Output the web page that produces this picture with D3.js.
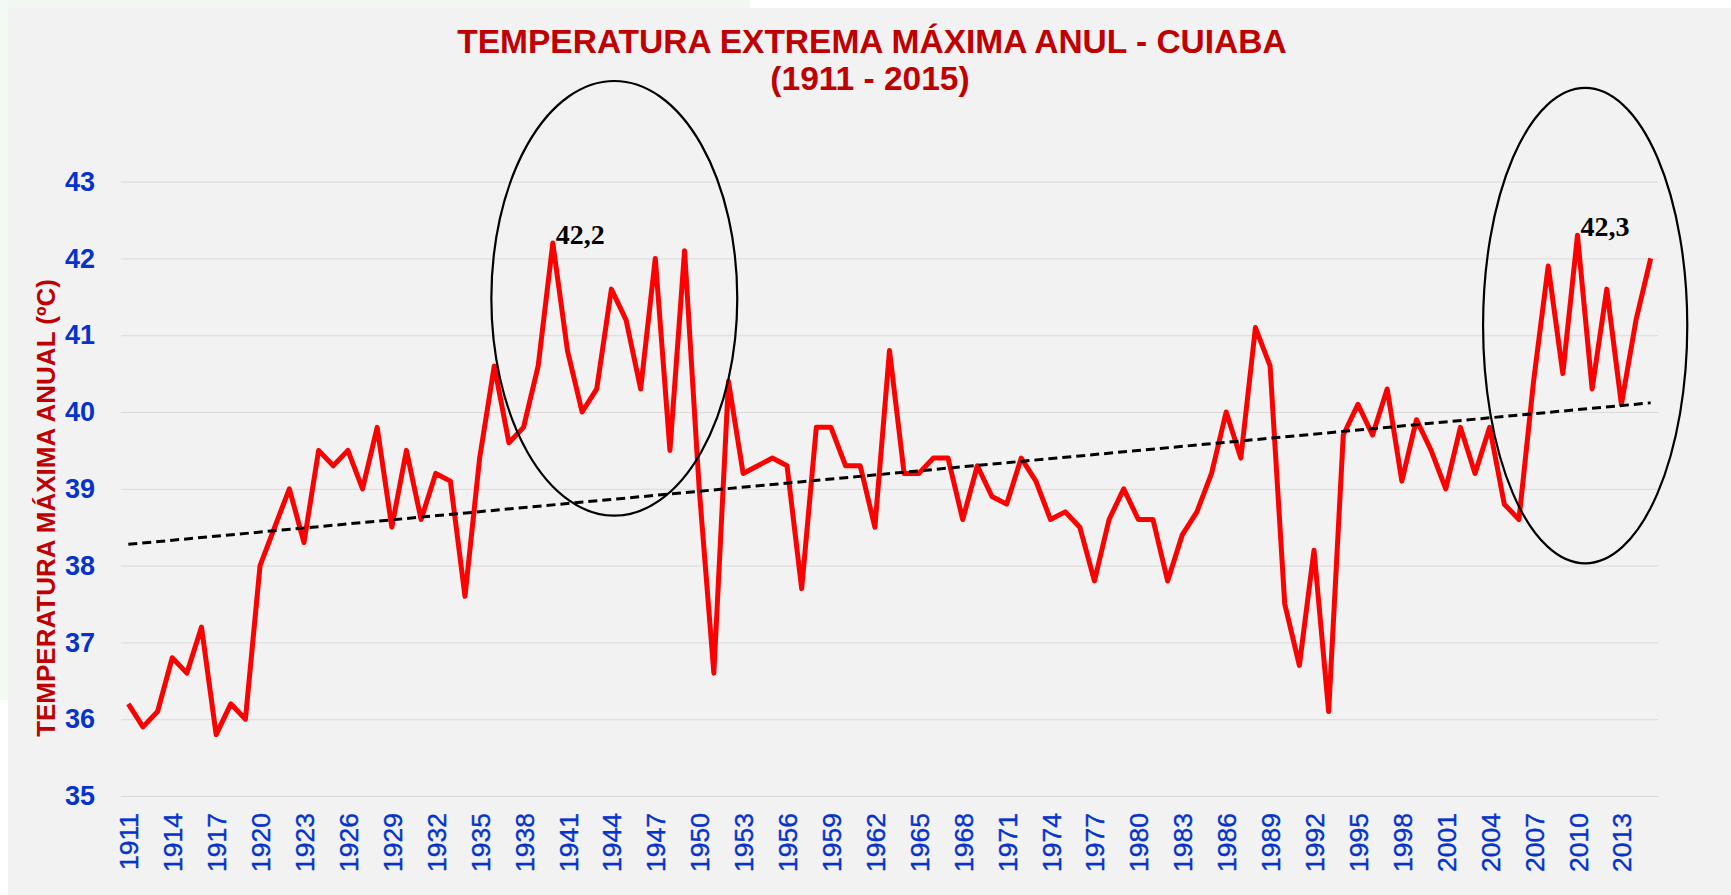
<!DOCTYPE html>
<html>
<head>
<meta charset="utf-8">
<script src="https://cdn.jsdelivr.net/npm/d3@7"></script>
<style>
  body { margin: 0; background: #fff; }
  svg { display: block; font-family: "Liberation Sans", Arial, sans-serif; }
</style>
</head>
<body>
<svg id="chart" width="1731" height="895"></svg>
<script>
// annual extreme max temperature, Cuiabá 1911-2015
const years = d3.range(1911, 2016);
const tmax = [
  36.2, 35.9, 36.1, 36.8, 36.6, 37.2, 35.8, 36.2, 36.0, 38.0,
  38.5, 39.0, 38.3, 39.5, 39.3, 39.5, 39.0, 39.8, 38.5, 39.5,
  38.6, 39.2, 39.1, 37.6, 39.4, 40.6, 39.6, 39.8, 40.6, 42.2,
  40.8, 40.0, 40.3, 41.6, 41.2, 40.3, 42.0, 39.5, 42.1, 39.0,
  36.6, 40.4, 39.2, 39.3, 39.4, 39.3, 37.7, 39.8, 39.8, 39.3,
  39.3, 38.5, 40.8, 39.2, 39.2, 39.4, 39.4, 38.6, 39.3, 38.9,
  38.8, 39.4, 39.1, 38.6, 38.7, 38.5, 37.8, 38.6, 39.0, 38.6,
  38.6, 37.8, 38.4, 38.7, 39.2, 40.0, 39.4, 41.1, 40.6, 37.5,
  36.7, 38.2, 36.1, 39.7, 40.1, 39.7, 40.3, 39.1, 39.9, 39.5,
  39.0, 39.8, 39.2, 39.8, 38.8, 38.6, 40.4, 41.9, 40.5, 42.3,
  40.3, 41.6, 40.1, 41.2, 42.0
];
const yTicks = [35, 36, 37, 38, 39, 40, 41, 42, 43];
const xTickYears = [
  1911, 1914, 1917, 1920, 1923, 1926, 1929, 1932, 1935, 1938,
  1941, 1944, 1947, 1950, 1953, 1956, 1959, 1962, 1965, 1968,
  1971, 1974, 1977, 1980, 1983, 1986, 1989, 1992, 1995, 1998,
  2001, 2004, 2007, 2010, 2013
];
// record values called out on the chart
const peakYears = [1940, 2010];
const peakLabels = ['42,2', '42,3'];
// ellipses drawn around the hot periods (in years / degrees)
const ringYearFrom = [1935.8, 2003.55];
const ringYearTo = [1952.6, 2017.5];
const ringLow = [38.65, 38.03];
const ringHigh = [44.31, 44.22];

const data = years.map((yr, i) => ({ year: yr, value: tmax[i] }));

const W = 1731, H = 895;
const plotLeft = 121, plotRight = 1658, plotTop = 181.6, plotBottom = 796;
const blue = '#0533cc';
const darkRed = '#c00000';

const svg = d3.select('#chart');

// background
svg.append('rect').attr('width', W).attr('height', H).attr('fill', '#fff');
svg.append('rect').attr('x', 0).attr('y', 0).attr('width', 750).attr('height', 8).attr('fill', '#f1f8f1');
svg.append('rect').attr('x', 0).attr('y', 0).attr('width', 8).attr('height', 700).attr('fill', '#f3f9f3');
svg.append('rect').attr('x', 8).attr('y', 8).attr('width', W - 8).attr('height', H - 8).attr('fill', '#f2f2f2');

const x = d3.scalePoint().domain(years).range([plotLeft, plotRight]).padding(0.5);
const xLin = d3.scaleLinear().domain([1911, 2015]).range([x(1911), x(2015)]);
const y = d3.scaleLinear().domain([35, 43]).range([plotBottom, plotTop]);

// y axis + gridlines
const yAxis = svg.append('g')
  .attr('transform', `translate(${plotLeft},0)`)
  .call(d3.axisLeft(y).tickValues(yTicks).tickSize(-(plotRight - plotLeft)).tickPadding(26));
yAxis.select('.domain').remove();
yAxis.selectAll('line').attr('stroke', '#d9d9d9').attr('stroke-width', 1);
yAxis.selectAll('text')
  .attr('fill', blue)
  .style('font-family', '"Liberation Sans", Arial, sans-serif')
  .style('font-size', '27px')
  .style('font-weight', 'bold');

// x axis labels
const xAxis = svg.append('g')
  .attr('transform', `translate(0,${plotBottom})`)
  .call(d3.axisBottom(x).tickValues(xTickYears).tickSize(0));
xAxis.select('.domain').remove();
xAxis.selectAll('text')
  .attr('transform', 'rotate(-90)')
  .attr('x', -17)
  .attr('y', 0)
  .attr('dy', '0.36em')
  .style('text-anchor', 'end')
  .attr('fill', blue)
  .attr('stroke', blue)
  .attr('stroke-width', 0.4)
  .style('font-family', '"Liberation Sans", Arial, sans-serif')
  .style('font-size', '26.5px');

// linear trend (least squares)
const mx = d3.mean(data, d => d.year);
const my = d3.mean(data, d => d.value);
const slope = d3.sum(data, d => (d.year - mx) * (d.value - my)) / d3.sum(data, d => (d.year - mx) ** 2);
const trendAt = yr => my + slope * (yr - mx);

// series line
svg.append('path')
  .datum(data)
  .attr('fill', 'none')
  .attr('stroke', '#ff0000')
  .attr('stroke-width', 5)
  .attr('stroke-linejoin', 'round')
  .attr('d', d3.line().x(d => x(d.year)).y(d => y(d.value)));

svg.append('line')
  .attr('x1', xLin(1911)).attr('y1', y(trendAt(1911)))
  .attr('x2', xLin(2015)).attr('y2', y(trendAt(2015)))
  .attr('stroke', '#000')
  .attr('stroke-width', 3)
  .attr('stroke-dasharray', '9,5');

// ellipses
ringYearFrom.forEach((from, i) => {
  const x0 = xLin(from), x1 = xLin(ringYearTo[i]);
  const y0 = y(ringHigh[i]), y1 = y(ringLow[i]);
  svg.append('ellipse')
    .attr('cx', (x0 + x1) / 2).attr('cy', (y0 + y1) / 2)
    .attr('rx', (x1 - x0) / 2).attr('ry', (y1 - y0) / 2)
    .attr('fill', 'none')
    .attr('stroke', '#000')
    .attr('stroke-width', 2.2);
});

// peak labels
peakYears.forEach((yr, i) => {
  svg.append('text')
    .attr('x', x(yr) + 3)
    .attr('y', y(tmax[years.indexOf(yr)]) + 1)
    .style('font-family', '"Liberation Serif", "Times New Roman", serif')
    .style('font-size', '28px')
    .style('font-weight', 'bold')
    .attr('fill', '#000')
    .text(peakLabels[i]);
});

// titles
svg.append('text')
  .attr('x', 872).attr('y', 53)
  .attr('text-anchor', 'middle')
  .attr('fill', darkRed)
  .style('font-size', '33.5px')
  .style('font-weight', 'bold')
  .text('TEMPERATURA EXTREMA MÁXIMA ANUL - CUIABA');

svg.append('text')
  .attr('x', 870).attr('y', 90)
  .attr('text-anchor', 'middle')
  .attr('fill', darkRed)
  .style('font-size', '33.5px')
  .style('font-weight', 'bold')
  .text('(1911 - 2015)');

svg.append('text')
  .attr('transform', 'translate(46,508) rotate(-90)')
  .attr('text-anchor', 'middle')
  .attr('dy', '0.35em')
  .attr('fill', darkRed)
  .style('font-size', '26px')
  .style('font-weight', 'bold')
  .text('TEMPERATURA MÁXIMA ANUAL (ºC)');
</script>
</body>
</html>
